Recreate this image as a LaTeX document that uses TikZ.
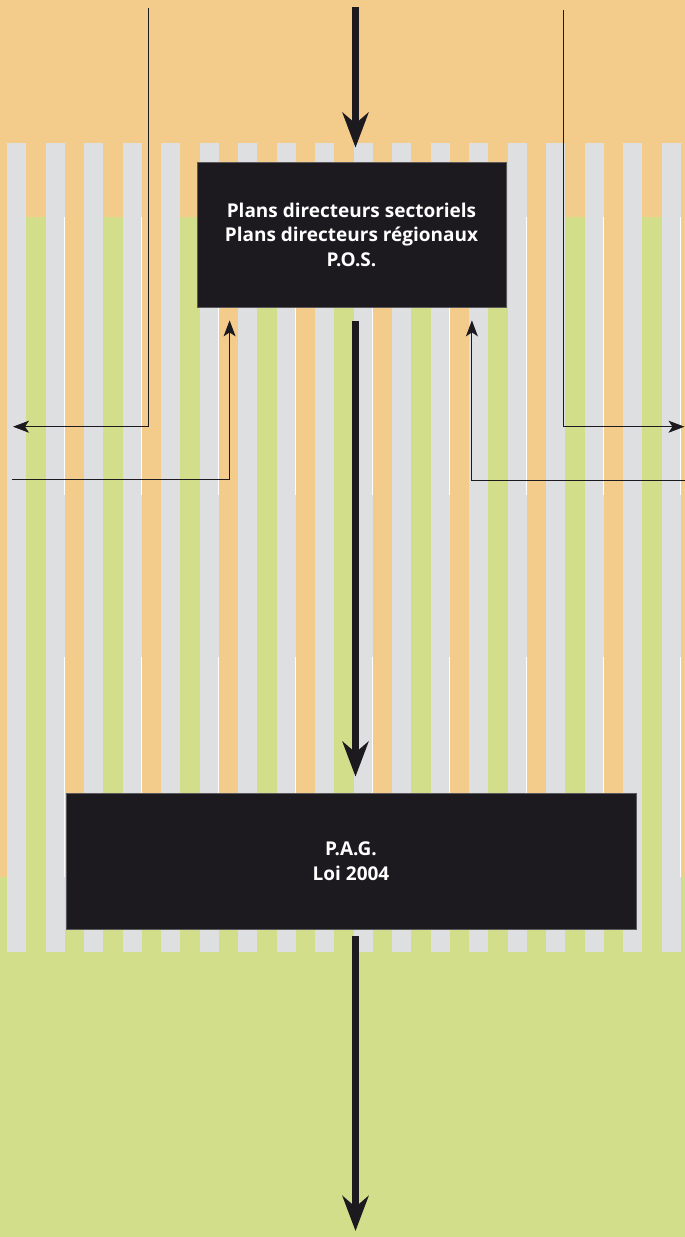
\documentclass[tikz,border=0pt]{standalone}
\usepackage{fontspec}
\setmainfont{Open Sans}
\usetikzlibrary{arrows.meta}
\definecolor{bgorange}{HTML}{F3CC8C}
\definecolor{bggreen}{HTML}{D3DE8A}
\definecolor{stripegray}{HTML}{DEDFE1}
\definecolor{boxblack}{HTML}{1C1A1F}
\definecolor{boxedge}{HTML}{5A595C}
\tikzset{
  darkbox/.style={fill=boxblack, draw=boxedge, line width=0.8pt, text=white,
    font=\fontsize{19}{24.5}\selectfont\bfseries, align=center, inner sep=0pt},
  mainflow/.style={draw=boxblack, line width=7.5pt,
    -{Stealth[length=35pt,width=26pt,inset=11pt]}},
  sideflow/.style={draw=boxblack, line width=1pt,
    -{Stealth[length=16pt,width=12pt,inset=4pt]}},
  gapline/.style={draw=white, line width=0.9pt},
}
\begin{document}
\begin{tikzpicture}[x=1pt,y=-1pt]
\useasboundingbox (0,0) rectangle (685,1237);
% background
\fill[bgorange] (0,0) rectangle (685,877);
\fill[bggreen] (0,877) rectangle (685,1237);
\foreach \k in {1,3,...,17}{
  \fill[bggreen] ({26+38.5*(\k-1)},217) rectangle ({7+38.5*\k},877);
}
\foreach \k in {0,...,17}{
  \fill[stripegray] ({7+38.5*\k},143) rectangle ({26+38.5*\k},951.5);
}
\foreach \k in {1,3,...,17}{
  \draw[gapline] ({26.3+38.5*\k},217) -- ({26.3+38.5*\k},495);
  \draw[gapline] ({26.3+38.5*\k},657) -- ({26.3+38.5*\k},877);
}
% boxes
\node[darkbox, minimum width=309pt, minimum height=145pt] (b1) at (351.5,234.5)
  {Plans directeurs sectoriels\\Plans directeurs régionaux\\P.O.S.};
\node[darkbox, minimum width=570pt, minimum height=136pt] (b2) at (351,861)
  {P.A.G.\\Loi 2004};
% free ends
\coordinate (topc) at (355.5,7);
\coordinate (botc) at (355.5,1231);
\coordinate (tl) at (148.3,8);
\coordinate (el) at (13,426.7);
\coordinate (sl) at (12,479);
\coordinate (tr) at (563.3,10);
\coordinate (er) at (684.5,426.7);
\coordinate (sr) at (685,480);
% main flow
\draw[mainflow, shorten >=14pt] (topc) -- (topc |- b1.north);
\draw[mainflow, shorten <=14pt, shorten >=16pt] (topc |- b1.south) -- (topc |- b2.north);
\draw[mainflow, shorten <=7pt] (topc |- b2.south) -- (botc);
% side connectors
\draw[sideflow] (tl) |- (el);
\draw[sideflow, shorten >=13pt] (sl) -| ([xshift=33pt]b1.south west);
\draw[sideflow] (tr) |- (er);
\draw[sideflow, shorten >=13pt] (sr) -| ([xshift=-34.5pt]b1.south east);
\end{tikzpicture}
\end{document}
